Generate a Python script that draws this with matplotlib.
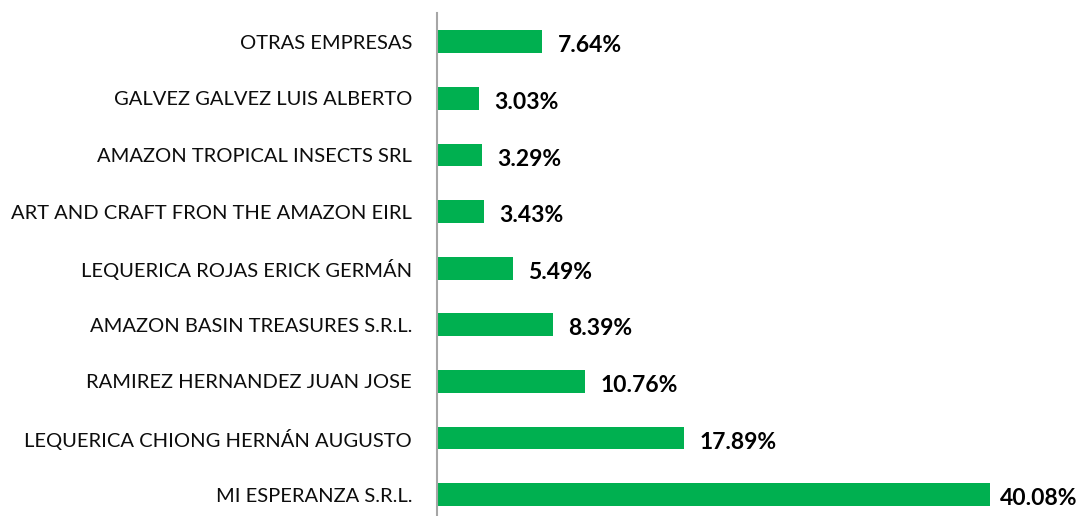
import matplotlib.pyplot as plt

empresas = [
    'MI ESPERANZA S.R.L.',
    'LEQUERICA CHIONG HERNÁN AUGUSTO',
    'RAMIREZ HERNANDEZ JUAN JOSE',
    'AMAZON BASIN TREASURES S.R.L.',
    'LEQUERICA ROJAS ERICK GERMÁN',
    'ART AND CRAFT FRON THE AMAZON EIRL',
    'AMAZON TROPICAL INSECTS SRL',
    'GALVEZ GALVEZ LUIS ALBERTO',
    'OTRAS EMPRESAS',
]
porcentajes = [40.08, 17.89, 10.76, 8.39, 5.49, 3.43, 3.29, 3.03, 7.64]

plt.rcParams['font.family'] = ['Lato', 'DejaVu Sans']

fig = plt.figure(figsize=(10.83, 5.16), dpi=100)
ax = fig.add_axes([437 / 1083, -7 / 516, 646 / 1083, 509.6 / 516])

pos = range(len(empresas))
ax.barh(pos, porcentajes, height=0.4, color='#00B050')
for i, v in zip(pos, porcentajes):
    # la ultima etiqueta queda mas pegada a la barra, como en el original
    dx = 7 if v == max(porcentajes) else 11
    ax.annotate(f'{v:.2f}%', (v, i), xytext=(dx, -3), textcoords='offset points',
                va='center', ha='left', fontsize=16.5, fontweight='bold', color='black')

ax.set_xlim(0, 646 / 13.8)
ax.set_ylim(-0.5, len(empresas) - 0.5)
ax.set_yticks(list(pos))
ax.set_yticklabels(empresas, fontsize=14.5, color='#0d0d0d')
ax.tick_params(axis='y', length=0, pad=18)
ax.set_xticks([])
for s in ['top', 'right', 'bottom']:
    ax.spines[s].set_visible(False)
ax.spines['left'].set_color('#A6A6A6')
ax.spines['left'].set_linewidth(1.5)

fig.savefig('out.png', dpi=100)
